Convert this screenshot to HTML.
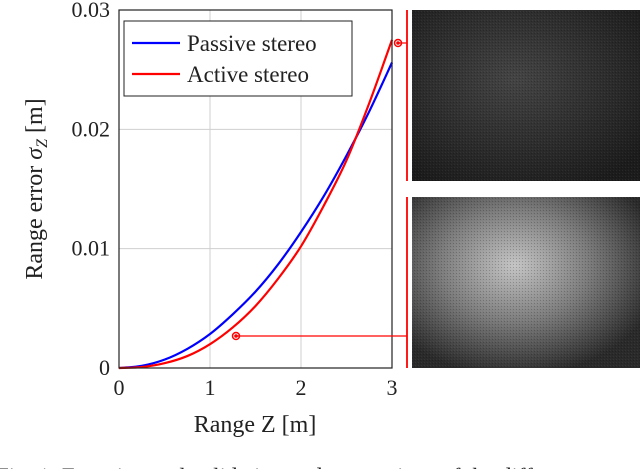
<!DOCTYPE html>
<html><head><meta charset="utf-8"><style>
body{margin:0;background:#fff;width:640px;height:469px;overflow:hidden;font-family:"Liberation Serif",serif}
</style></head><body>
<svg width="640" height="469" viewBox="0 0 640 469">
<defs>
<radialGradient id="g1" cx="0.45" cy="0.4" r="0.7"><stop offset="0" stop-color="#444"/><stop offset="1" stop-color="#1c1c1c"/></radialGradient>
<radialGradient id="g2" cx="0.45" cy="0.4" r="0.65"><stop offset="0" stop-color="#c4c4c4"/><stop offset="0.5" stop-color="#7c7c7c"/><stop offset="1" stop-color="#2a2a2a"/></radialGradient>
<pattern id="pt" width="3" height="3" patternUnits="userSpaceOnUse"><rect width="1" height="1" fill="rgba(0,0,0,0.2)"/><rect x="1" y="2" width="1" height="1" fill="rgba(255,255,255,0.05)"/></pattern>
</defs>
<rect x="412" y="10" width="228" height="171" fill="url(#g1)"/>
<rect x="412" y="10" width="228" height="171" fill="url(#pt)"/>
<rect x="412" y="197" width="228" height="171" fill="url(#g2)"/>
<rect x="412" y="197" width="228" height="171" fill="url(#pt)"/>
<g id="grid"></g>
<g id="curves"></g>
<rect x="119" y="10" width="273" height="358" fill="none" stroke="#222" stroke-width="1.2"/>
<g id="ticks" font-size="22" fill="#222"></g>
<text x="255" y="432" font-size="24" text-anchor="middle" fill="#222">Range Z [m]</text>
<text transform="translate(42,189) rotate(-90)" font-size="24" text-anchor="middle" fill="#222">Range error <tspan font-style="italic">σ</tspan><tspan font-style="italic" font-size="16" dy="5">Z</tspan><tspan dy="-5"> [m]</tspan></text>
<g>
<rect x="124" y="21" width="228" height="75" fill="#fff" stroke="#222" stroke-width="1"/>
<line x1="132" y1="43" x2="180" y2="43" stroke="#0000ff" stroke-width="2.2"/>
<text x="187" y="51" font-size="23" fill="#222">Passive stereo</text>
<line x1="132" y1="74" x2="180" y2="74" stroke="#ff0000" stroke-width="2.2"/>
<text x="187" y="82" font-size="23" fill="#222">Active stereo</text>
</g>
<g stroke="#ff0000" fill="none">
<line x1="407" y1="10" x2="407" y2="181" stroke-width="1.8"/>
<line x1="407" y1="197" x2="407" y2="368" stroke-width="1.8"/>
<line x1="398" y1="43" x2="407" y2="43" stroke-width="1.2"/>
<circle cx="398" cy="43" r="3.5" stroke-width="1.5"/>
<circle cx="398" cy="43" r="1.3" fill="#ff0000"/>
<line x1="236" y1="336" x2="407" y2="336" stroke-width="1.2"/>
<circle cx="236" cy="336" r="3.5" stroke-width="1.5"/>
<circle cx="236" cy="336" r="1.3" fill="#ff0000"/>
</g>
<text x="-4" y="484" font-size="23" fill="#222">Fig. 1: Experimental validation and comparison of the diff</text>
</svg>
<script>
const zValues=[0,0.25,0.5,0.75,1,1.25,1.5,1.75,2,2.25,2.5,2.75,3];
const passiveErr=[0,0.00018,0.0007,0.0016,0.00285,0.0045,0.0064,0.0087,0.0114,0.0144,0.0178,0.0215,0.0256];
const activeErr=[0,0.00008,0.0004,0.001,0.002,0.0034,0.0052,0.0075,0.0102,0.0136,0.0174,0.0222,0.0275];
const xTicks=[0,1,2,3];
const yTicks=[0,0.01,0.02,0.03];
const yTickLabels=["0","0.01","0.02","0.03"];
const NS="http://www.w3.org/2000/svg";
const X=z=>119+z/3*273, Y=v=>368-v/0.03*358;
const grid=document.getElementById('grid'),ticks=document.getElementById('ticks'),curves=document.getElementById('curves');
xTicks.forEach(t=>{
 const l=document.createElementNS(NS,'line');
 
 
 l.setAttribute('x1',X(t));l.setAttribute('x2',X(t));l.setAttribute('y1',10);l.setAttribute('y2',368);l.setAttribute('stroke','#cfcfcf');grid.appendChild(l);
 const tx=document.createElementNS(NS,'text');
 
 
 tx.setAttribute('x',X(t));tx.setAttribute('y',395);tx.setAttribute('text-anchor','middle');tx.textContent=t;ticks.appendChild(tx);
});
yTicks.forEach((t,i)=>{
 const l=document.createElementNS(NS,'line');
 
 
 l.setAttribute('x1',119);l.setAttribute('x2',392);l.setAttribute('y1',Y(t));l.setAttribute('y2',Y(t));l.setAttribute('stroke','#cfcfcf');grid.appendChild(l);
 const tx=document.createElementNS(NS,'text');
 
 
 tx.setAttribute('x',110);tx.setAttribute('y',Y(t)+7);tx.setAttribute('text-anchor','end');tx.textContent=yTickLabels[i];ticks.appendChild(tx);
});
function curve(vals,color,name){
 const p=document.createElementNS(NS,'path');
 
 
 const pts=zValues.map((z,i)=>[X(z),Y(vals[i])]);
 let d='M'+pts[0][0]+','+pts[0][1];
 for(let i=0;i<pts.length-1;i++){
  const p0=pts[Math.max(i-1,0)],p1=pts[i],p2=pts[i+1],p3=pts[Math.min(i+2,pts.length-1)];
  d+=' C'+(p1[0]+(p2[0]-p0[0])/6)+','+(p1[1]+(p2[1]-p0[1])/6)+' '+(p2[0]-(p3[0]-p1[0])/6)+','+(p2[1]-(p3[1]-p1[1])/6)+' '+p2[0]+','+p2[1];
 }
 p.setAttribute('d',d);p.setAttribute('fill','none');p.setAttribute('stroke',color);p.setAttribute('stroke-width','2.2');
 curves.appendChild(p);
}
curve(passiveErr,'#0000ff','passive-stereo-line');
curve(activeErr,'#ff0000','active-stereo-line');
</script>
</body></html>
